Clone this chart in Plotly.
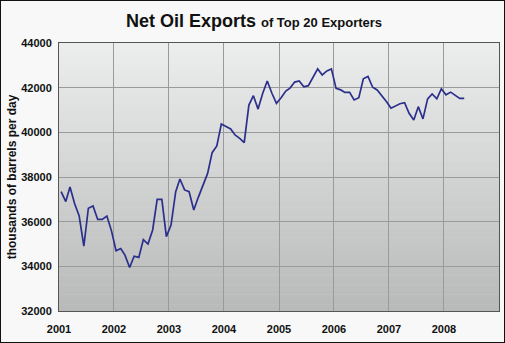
import plotly.graph_objects as go

# ---- data (thousands of barrels per day), monthly ----
exports_2001 = [37350, 36900, 37550, 36800, 36250, 34900, 36600, 36700, 36100, 36100, 36250, 35600]
exports_2002 = [34700, 34800, 34500, 33950, 34450, 34400, 35200, 35000, 35630, 37000, 37000, 35330]
exports_2003 = [35850, 37340, 37910, 37420, 37340, 36520, 37090, 37640, 38160, 39090, 39390, 40370]
exports_2004 = [40250, 40150, 39880, 39730, 39540, 41220, 41640, 41040, 41750, 42300, 41750, 41300]
exports_2005 = [41550, 41850, 41980, 42250, 42300, 42040, 42090, 42490, 42840, 42570, 42750, 42840]
exports_2006 = [41970, 41900, 41790, 41790, 41450, 41550, 42400, 42500, 42020, 41900, 41650, 41380]
exports_2007 = [41080, 41200, 41280, 41330, 40850, 40550, 41150, 40600, 41500, 41720, 41500, 41950]
exports_2008 = [41680, 41800, 41680, 41520, 41520]

years = ["2001", "2002", "2003", "2004", "2005", "2006", "2007", "2008"]
tick_labels = ["2001", "2002", "2003", "2004", "2005", "2006", "2007", "2008"]

values = (exports_2001 + exports_2002 + exports_2003 + exports_2004 +
          exports_2005 + exports_2006 + exports_2007 + exports_2008)
dates = [f"{2001 + i // 12}-{i % 12 + 1:02d}-15" for i in range(len(values))]

fig = go.Figure()
fig.add_trace(go.Scatter(
    x=dates, y=values, mode="lines",
    line=dict(color="#2b2f8c", width=1.7),
    hoverinfo="skip", showlegend=False,
))

# vertical gradient plot background (light top -> darker bottom)
shapes = []
n_bands = 80
top = (236, 237, 237)
bot = (184, 185, 185)
for i in range(n_bands):
    t = i / (n_bands - 1)
    c = tuple(round(top[k] + (bot[k] - top[k]) * t) for k in range(3))
    y1 = 1 - i / n_bands
    y0 = 1 - (i + 1) / n_bands
    shapes.append(dict(type="rect", xref="x domain", yref="y domain",
                       x0=0, x1=1, y0=y0 - 0.002, y1=y1,
                       fillcolor=f"rgb{c}", line=dict(width=0), layer="below"))
# outer frame of the picture
shapes.append(dict(type="rect", xref="paper", yref="paper",
                   x0=-59/440, x1=1 + 6/440, y0=-32/268, y1=1 + 43/268,
                   line=dict(color="#111111", width=2), fillcolor="rgba(0,0,0,0)",
                   layer="above"))

font_fam = "Liberation Sans, Arial, sans-serif"

fig.update_layout(
    width=505, height=343,
    margin=dict(l=59, r=6, t=43, b=32),
    paper_bgcolor="#f7f8f7",
    plot_bgcolor="rgba(0,0,0,0)",
    shapes=shapes,
    title=dict(
        text="<b>Net Oil Exports</b> <b><span style='font-size:13px'>of Top 20 Exporters</span></b>",
        x=0.503, xanchor="center", xref="container", y=0.94, yanchor="middle",
        font=dict(family=font_fam, size=18, color="#111111"),
    ),
    xaxis=dict(
        type="date",
        range=["2001-01-01", "2009-01-01"],
        tickvals=[f"{y}-01-01" for y in years],
        ticktext=tick_labels,
        showgrid=True, gridcolor="#9a9a9a", gridwidth=1,
        showline=True, linecolor="#555555", linewidth=1, mirror=True,
        ticks="", ticklabelstandoff=8,
        tickfont=dict(family=font_fam, size=11, color="#111111", weight="bold"),
        zeroline=False, fixedrange=True,
    ),
    yaxis=dict(
        range=[32000, 44000], dtick=2000, tickformat="d",
        showgrid=True, gridcolor="#9a9a9a", gridwidth=1,
        showline=True, linecolor="#555555", linewidth=1, mirror=True,
        ticks="", ticklabelstandoff=4,
        tickfont=dict(family=font_fam, size=11, color="#111111", weight="bold"),
        title=dict(text="<b>thousands of barrels per day</b>", standoff=2,
                   font=dict(family=font_fam, size=12, color="#111111")),
        zeroline=False, fixedrange=True,
    ),
)

fig.write_html("out.html")
